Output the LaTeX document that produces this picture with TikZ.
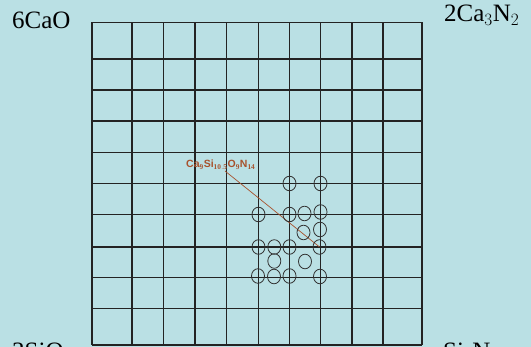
\documentclass[tikz,border=0pt]{standalone}
\usepackage{fontspec}
\setmainfont{Liberation Serif}
\newfontfamily\labfont{Liberation Sans}
\definecolor{bgc}{RGB}{186,224,228}
\definecolor{gridc}{RGB}{35,35,35}
\definecolor{brn}{RGB}{168,82,45}
\definecolor{circc}{RGB}{50,50,50}
\begin{document}
\begin{tikzpicture}[x=1pt,y=-1pt,
  corner/.style={anchor=base west,inner sep=0pt,font=\fontsize{25}{25}\selectfont,text=black},
  gl/.style={draw=gridc,line width=1.1pt},
  phase/.style={anchor=base west,inner sep=0pt,text=brn,font=\labfont\bfseries\fontsize{10.5}{11}\selectfont}]
\fill[bgc] (0,0) rectangle (531,347);
\useasboundingbox (0,0) rectangle (531,347);
\begin{scope}
\clip (0,0) rectangle (531,347);
% grid
\foreach \x in {92,132,163.5,195,226.5,258.5,289.5,320.5,352,383,422}
  \draw[gl] (\x,22.5) -- (\x,345);
\foreach \y in {22.5,59,90,121,152.5,183.5,214.5,247,277.5,308.5,345}
  \draw[gl] (92,\y) -- (422,\y);
% corner labels
\node[corner] (cao) at (12,29) {6CaO};
\node[corner] (can) at (444,22) {2Ca$_3$N$_2$};
\node[corner] (sio) at (12,360) {3SiO$_2$};
\node[corner] (sin) at (443,360) {Si$_3$N$_4$};
% phase label
\node[phase] (ph) at (186,168) {Ca$_{\mathbf{9}}$Si$_{\mathbf{10.5}}$O$_{\mathbf{9}}$N$_{\mathbf{14}}$};
\coordinate (ls) at (225,171);
\coordinate (le) at (319.5,247);
\draw[brn,line width=0.7pt] (ls) -- (le);
% circles
\foreach \cx/\cy in {289.5/183.5,320.5/183.5,
  258.5/214.5,289.5/214.5,304.5/213.5,320.5/212,
  303.5/232.5,320/229.5,
  258.5/247,274.3/247,289.5/247,319.5/247,
  274.3/261,305/261.5,
  258/276,274/276.5,289.5/276,320/276.5}
  \draw[circc,line width=0.8pt] (\cx,\cy) ellipse [x radius=6.5,y radius=7.3];
\end{scope}
\end{tikzpicture}
\end{document}
